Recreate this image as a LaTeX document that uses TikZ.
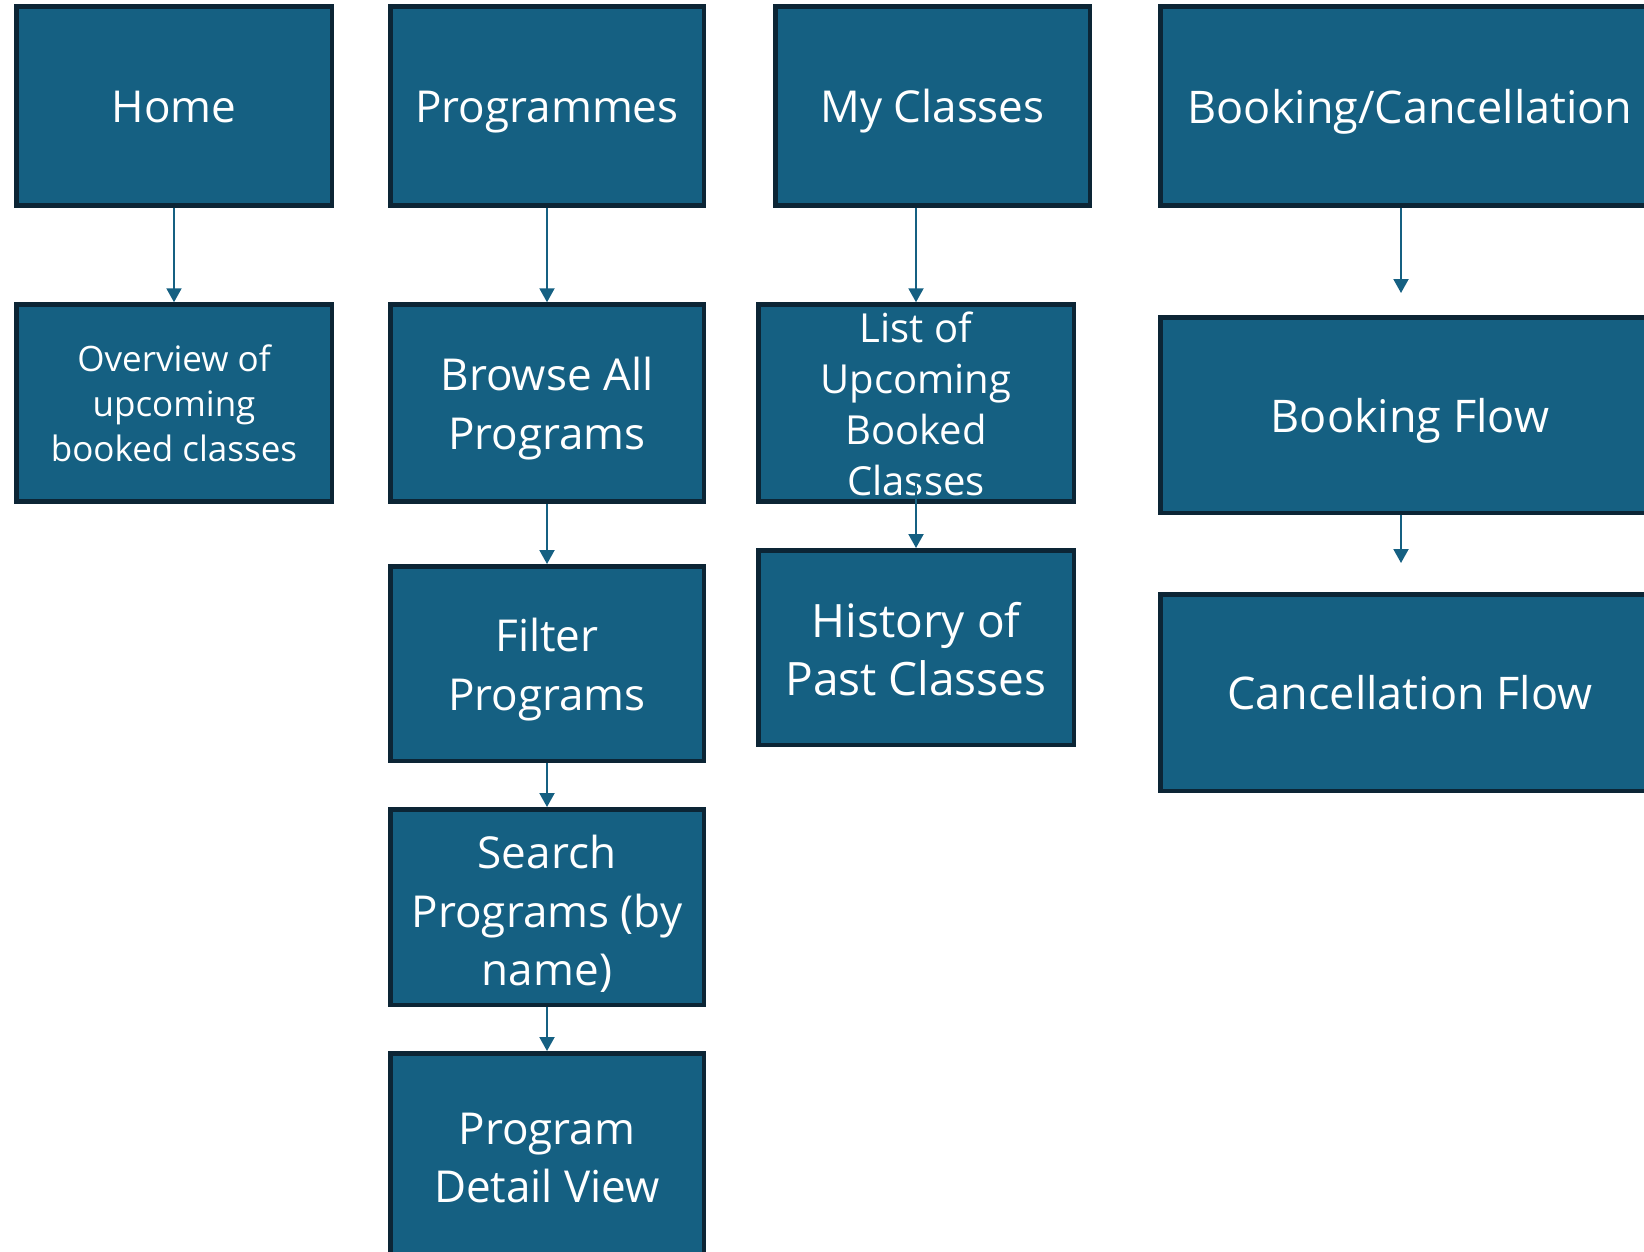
\documentclass[tikz,border=0pt]{standalone}
\usepackage{fontspec}
\setmainfont{Open Sans}
\usetikzlibrary{arrows.meta}
\definecolor{accentblue}{HTML}{156082}
\definecolor{boxborder}{RGB}{12,37,53}
\tikzset{
  box/.style={draw=boxborder, fill=accentblue, line width=4.5pt, text=white,
    align=center, inner sep=0pt, text depth=0pt},
  bigtext/.style={font=\fontsize{44}{58.7}\selectfont, text height=33.4pt},
  righttext/.style={font=\fontsize{45}{58}\selectfont, text height=34.1pt},
  smalltext/.style={font=\fontsize{35}{45}\selectfont},
  listtext/.style={font=\fontsize{40}{50.8}\selectfont},
  histtext/.style={font=\fontsize{46}{57.7}\selectfont},
  link/.style={draw=accentblue, line width=2pt, -{Triangle[length=14pt,width=15pt]}}
}
\begin{document}
\begin{tikzpicture}[x=1pt,y=-1pt]
\useasboundingbox (0,0) rectangle (1644,1251);
\clip (0,0) rectangle (1644,1251);
\fill[white] (0,0) rectangle (1644,1251);

% top row
\node[box, bigtext, minimum width=315.5pt, minimum height=198.9pt] (home) at (174,106) {Home};
\node[box, bigtext, minimum width=313.5pt, minimum height=198.9pt] (prog) at (547,106) {Programmes};
\node[box, bigtext, minimum width=314.5pt, minimum height=198.9pt] (mycl) at (932.5,106) {My Classes};
\node[box, righttext, minimum width=499.5pt, minimum height=198.9pt] (bookc) at (1410,106) {Booking/Cancellation};

% second row
\node[box, smalltext, text height=117pt, minimum width=315.5pt, minimum height=197pt] (over) at (174,403) {Overview of\\upcoming\\booked classes};
\node[box, bigtext, text height=93.3pt, minimum width=313.5pt, minimum height=197pt] (browse) at (547,403) {Browse All\\Programs};
\node[box, listtext, text height=184pt, minimum width=315.5pt, minimum height=197pt] (list) at (916,403) {List of\\Upcoming\\Booked\\Classes};
\node[box, righttext, minimum width=499.5pt, minimum height=195.5pt] (bflow) at (1410,415) {Booking Flow};

% third row
\node[box, bigtext, text height=93.3pt, minimum width=313.5pt, minimum height=194.5pt] (filter) at (547,663.5) {Filter\\Programs};
\node[box, histtext, text height=95.7pt, minimum width=315.5pt, minimum height=194.5pt] (hist) at (916,647.5) {History of\\Past Classes};
\node[box, righttext, minimum width=499.5pt, minimum height=196.5pt] (cflow) at (1410,692.5) {Cancellation Flow};

% lower rows
\node[box, bigtext, text height=157.8pt, minimum width=313.5pt, minimum height=195.5pt] (search) at (547,907) {Search\\Programs (by\\name)};
\node[box, bigtext, text height=97.5pt, minimum width=313.5pt, minimum height=201.5pt] (detail) at (547,1154) {Program\\Detail View};

% connectors
\draw[link] (home.south) -- (over.north);
\draw[link] (prog.south) -- (browse.north);
\draw[link] (browse.south) -- (filter.north);
\draw[link] (filter.south) -- (search.north);
\draw[link] (search.south) -- (detail.north);
\draw[link] (mycl.south -| list.north) -- (list.north);
\coordinate (lstart) at (916,478);
\draw[link] (lstart) -- (hist.north);
\coordinate (bcend) at (1401,293);
\draw[link] (bookc.south -| bcend) -- (bcend);
\coordinate (bfend) at (1401,563);
\draw[link] (bflow.south -| bfend) -- (bfend);
\end{tikzpicture}
\end{document}
